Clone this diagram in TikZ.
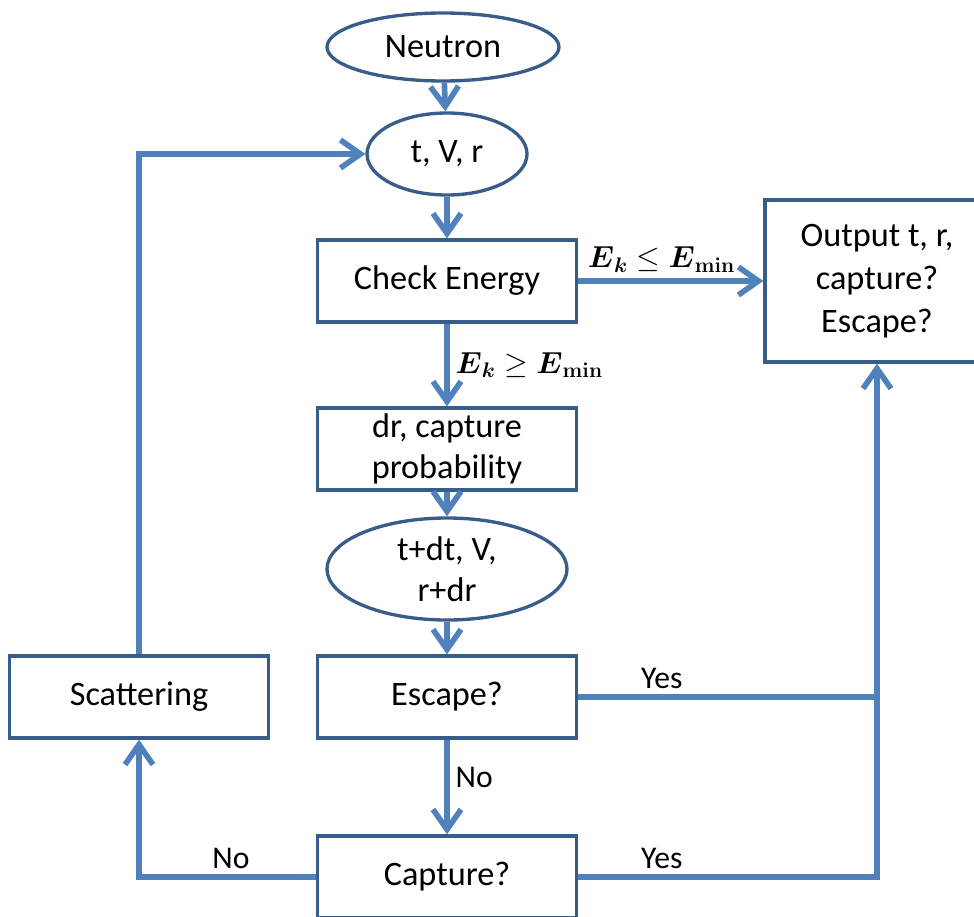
\documentclass[tikz,border=0pt]{standalone}
\usepackage{amsmath}
\usepackage{amssymb}
\usepackage[no-math]{fontspec}
\setmainfont{Carlito}
\usetikzlibrary{shapes.geometric,arrows.meta}
\definecolor{linkblue}{RGB}{79,129,189}
\definecolor{edgeblue}{RGB}{56,93,138}
\tikzset{
  flowline/.style={line width=3.2pt, draw=linkblue, -{Straight Barb[length=4mm,width=5.6mm]}},
  plainline/.style={line width=3.2pt, draw=linkblue},
  procbox/.style={rectangle, draw=edgeblue, line width=1.9pt, minimum width=5.18cm, minimum height=1.64cm, inner sep=0pt, align=center, font=\fontsize{19.5}{23.5}\selectfont},
  termnode/.style={ellipse, draw=edgeblue, line width=1.9pt, inner sep=0pt, align=center, font=\fontsize{19.5}{23.5}\selectfont},
  lbl/.style={font=\fontsize{18}{20}\selectfont},
  mathlbl/.style={font=\fontsize{18}{22}\selectfont}
}

\begin{document}
\begin{tikzpicture}[x=0.2mm, y=-0.2mm]
        \useasboundingbox (0,0) rectangle (974,916);
        \node[termnode, minimum width=4.64cm, minimum height=1.36cm] (neutron) at (443,47) {Neutron};
        \node[termnode, minimum width=3.2cm, minimum height=1.64cm] (tvr) at (447,154) {t, V, r};
        \node[procbox] (check) at (447,281) {Check Energy};
        \node[procbox, minimum width=4.48cm, minimum height=3.24cm, font=\fontsize{19.5}{24.5}\selectfont] (output) at (877,281) {Output t, r,\\capture?\\Escape?};
        \node[procbox] (drprob) at (447,449) {dr, capture\\probability};
        \node[termnode, minimum width=4.8cm, minimum height=2.04cm] (tdt) at (447,569) {t+dt, V,\\r+dr};
        \node[procbox] (escape) at (447,697) {Escape?};
        \node[procbox] (scatter) at (139,697) {Scattering};
        \node[procbox] (capture) at (447,877) {Capture?};
        \coordinate (yesjoin) at (escape.east -| output.south);
        \draw[flowline] (neutron) -- (tvr);
        \draw[flowline] (tvr) -- (check);
        \draw[flowline] (check) -- node[above, mathlbl, pos=0.45] {$\boldsymbol{E}_{\boldsymbol{k}} \le \boldsymbol{E}_{\mathbf{min}}$} (output);
        \draw[flowline] (check) -- node[right, mathlbl] {$\boldsymbol{E}_{\boldsymbol{k}} \ge \boldsymbol{E}_{\mathbf{min}}$} (drprob);
        \draw[flowline] (drprob) -- (tdt);
        \draw[flowline] (tdt) -- (escape);
        \draw[flowline] (escape) -- node[right, lbl, pos=0.4] {No} (capture);
        \draw[plainline] (escape) -- node[above, lbl, pos=0.28] {Yes} (yesjoin);
        \draw[flowline] (capture) -| node[above, lbl, pos=0.14] {Yes} (output);
        \draw[flowline] (capture) -| node[above, lbl, pos=0.24] {No} (scatter);
        \draw[flowline] (scatter) |- (tvr);
    \end{tikzpicture}
\end{document}
